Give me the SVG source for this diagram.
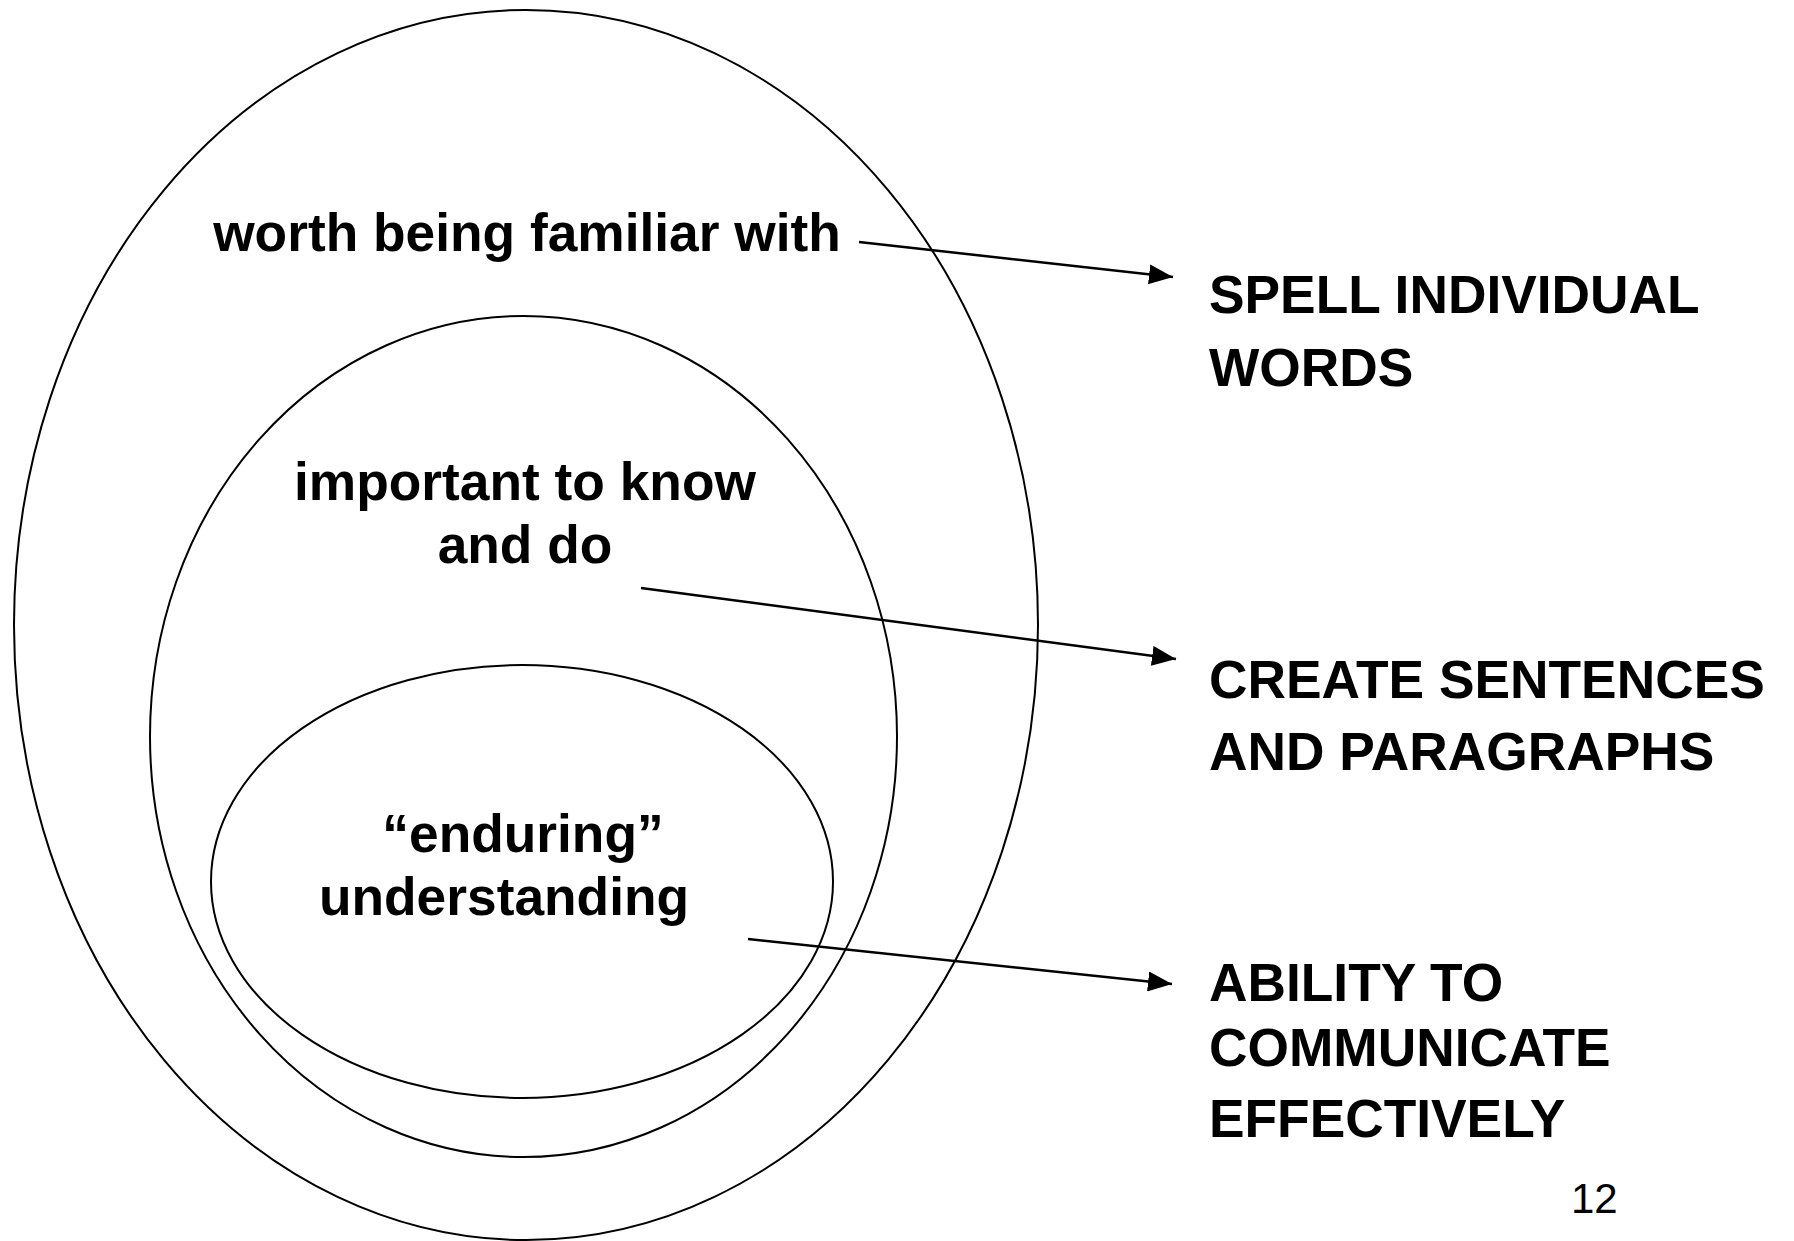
<svg xmlns="http://www.w3.org/2000/svg" width="1794" height="1241" viewBox="0 0 1794 1241">
<style>
.ring{fill:none;stroke:#000;stroke-width:2}
.lbl{font-family:"Liberation Sans",Arial,sans-serif;font-weight:bold;font-size:53.3px;fill:#000}
.num{font-family:"Liberation Sans",Arial,sans-serif;font-size:42px;fill:#000}
.conn{stroke:#000;stroke-width:2.5;fill:none}
</style>
<defs>
<marker id="ah" markerWidth="24" markerHeight="20" refX="24" refY="10" orient="auto" markerUnits="userSpaceOnUse">
<path d="M0,0 L24,10 L0,20 Z" fill="#000"/>
</marker>
</defs>
<rect width="1794" height="1241" fill="#fff"/>
<g id="outer">
<ellipse class="ring" cx="526" cy="625" rx="512" ry="615"/>
<text class="lbl" x="527" y="251" text-anchor="middle">worth being familiar with</text>
</g>
<g id="middle">
<ellipse class="ring" cx="523.5" cy="736.5" rx="373.5" ry="420.5"/>
<text class="lbl" x="525" y="500" text-anchor="middle">important to know</text>
<text class="lbl" x="525" y="563" text-anchor="middle">and do</text>
</g>
<g id="inner">
<ellipse class="ring" cx="522" cy="881.5" rx="311" ry="216.5"/>
<text class="lbl" x="523" y="852" text-anchor="middle">“enduring”</text>
<text class="lbl" x="504" y="915" text-anchor="middle">understanding</text>
</g>
<g id="spell">
<text class="lbl" x="1209" y="313">SPELL INDIVIDUAL</text>
<text class="lbl" x="1209" y="386">WORDS</text>
</g>
<g id="create">
<text class="lbl" x="1209" y="698">CREATE SENTENCES</text>
<text class="lbl" x="1209" y="770">AND PARAGRAPHS</text>
</g>
<g id="ability">
<text class="lbl" x="1209" y="1001">ABILITY TO</text>
<text class="lbl" x="1209" y="1066">COMMUNICATE</text>
<text class="lbl" x="1209" y="1137">EFFECTIVELY</text>
</g>
<g id="page">
<text class="num" x="1571" y="1213">12</text>
</g>
<g id="connectors">
<line class="conn" x1="859" y1="242" x2="1173" y2="277" marker-end="url(#ah)"/>
<line class="conn" x1="641" y1="588" x2="1176" y2="659" marker-end="url(#ah)"/>
<line class="conn" x1="748" y1="939" x2="1172" y2="984" marker-end="url(#ah)"/>
</g>
</svg>
